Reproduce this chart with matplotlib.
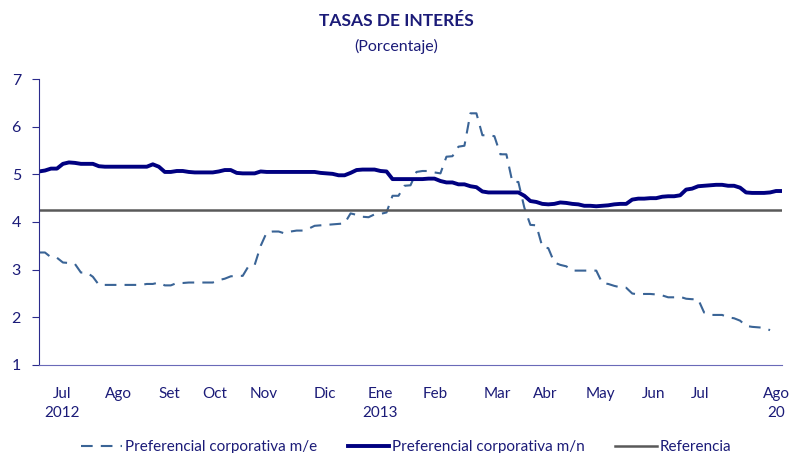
import matplotlib
matplotlib.use("Agg")
import matplotlib.pyplot as plt
import numpy as np

# datos (aprox.), un valor por punto del eje
m_n = [5.06, 5.08, 5.12, 5.12, 5.22, 5.25, 5.24, 5.22, 5.22, 5.22,
       5.17, 5.16, 5.16, 5.16, 5.16, 5.16, 5.16, 5.16, 5.16, 5.21,
       5.16, 5.05, 5.05, 5.07, 5.07, 5.05, 5.04, 5.04, 5.04, 5.04,
       5.06, 5.09, 5.09, 5.03, 5.02, 5.02, 5.02, 5.06, 5.05, 5.05,
       5.05, 5.05, 5.05, 5.05, 5.05, 5.05, 5.05, 5.03, 5.02, 5.01,
       4.98, 4.98, 5.03, 5.09, 5.10, 5.10, 5.10, 5.07, 5.06, 4.90,
       4.90, 4.90, 4.90, 4.90, 4.90, 4.91, 4.91, 4.86, 4.83, 4.83,
       4.79, 4.79, 4.75, 4.73, 4.64, 4.62, 4.62, 4.62, 4.62, 4.62,
       4.62, 4.55, 4.44, 4.42, 4.38, 4.37, 4.38, 4.41, 4.40, 4.38,
       4.37, 4.34, 4.34, 4.33, 4.34, 4.35, 4.37, 4.38, 4.38, 4.47,
       4.49, 4.49, 4.50, 4.50, 4.53, 4.54, 4.54, 4.56, 4.68, 4.70,
       4.75, 4.76, 4.77, 4.78, 4.78, 4.76, 4.76, 4.72, 4.62, 4.61,
       4.61, 4.61, 4.62, 4.65, 4.65]

m_e = [3.36, 3.36, 3.26, 3.25, 3.15, 3.14, 3.12, 2.94, 2.94, 2.85,
       2.68, 2.68, 2.68, 2.68, 2.68, 2.68, 2.68, 2.68, 2.70, 2.70,
       2.73, 2.67, 2.67, 2.72, 2.72, 2.73, 2.73, 2.73, 2.73, 2.73,
       2.78, 2.81, 2.86, 2.87, 2.87, 3.08, 3.10, 3.50, 3.78, 3.80,
       3.80, 3.76, 3.80, 3.82, 3.82, 3.86, 3.92, 3.93, 3.94, 3.95,
       3.96, 3.97, 4.18, 4.15, 4.11, 4.10, 4.16, 4.17, 4.20, 4.55,
       4.55, 4.76, 4.77, 5.05, 5.07, 5.07, 5.04, 5.02, 5.37, 5.38,
       5.58, 5.60, 6.28, 6.28, 5.82, 5.82, 5.80, 5.42, 5.42, 4.84,
       4.84, 4.30, 3.94, 3.93, 3.48, 3.45, 3.15, 3.10, 3.07, 2.98,
       2.98, 2.98, 2.98, 2.98, 2.72, 2.70, 2.66, 2.63, 2.62, 2.50,
       2.48, 2.49, 2.49, 2.48, 2.46, 2.42, 2.42, 2.43, 2.39, 2.38,
       2.38, 2.10, 2.05, 2.05, 2.05, 2.00, 1.98, 1.93, 1.82, 1.80,
       1.79, 1.78, 1.73, np.nan, np.nan]

referencia = 4.25

meses = ["Jul\n2012", "Ago", "Set", "Oct", "Nov", "Dic", "Ene\n2013", "Feb",
         "Mar", "Abr", "May", "Jun", "Jul", "Ago\n20"]
pos_meses = [3.8, 13.2, 21.7, 29.3, 37.5, 47.7, 57.0, 66.2, 76.5, 84.5,
             93.7, 102.5, 110.3, 123.0]

plt.rcParams['font.family'] = ['Lato', 'DejaVu Sans']
azul = "#1B1B78"
x = np.arange(len(m_n))

fig = plt.figure(figsize=(7.92, 4.53), dpi=100)
ax = fig.add_axes([0.0492, 0.1943, 0.9382, 0.6313])

ax.plot(x, m_e, color="#3A6496", lw=1.5, dashes=(5.6, 3.9),
        label="Preferencial corporativa m/e")
ax.plot(x, m_n, color="#000080", lw=2.8, label="Preferencial corporativa m/n")
ax.plot(x, [referencia] * len(x), color="#595959", lw=1.8, label="Referencia")

ax.set_xlim(0, len(x) - 1)
ax.set_ylim(1, 7)
ax.set_yticks(range(1, 8))
ax.set_xticks(pos_meses)
ax.set_xticklabels(meses, linespacing=1.45)

ax.spines["top"].set_visible(False)
ax.spines["right"].set_visible(False)
ax.spines["left"].set_color("#2B2B8C")
ax.spines["bottom"].set_color("#6A6AB8")
ax.tick_params(axis="y", colors="#2B2B8C", labelcolor=azul, labelsize=11.5,
               length=5, direction="out", pad=8)
ax.tick_params(axis="x", length=0, labelcolor=azul, labelsize=11, pad=16)

fig.text(0.5, 0.953, "TASAS DE INTERÉS", ha="center", va="center",
         fontsize=12.5, fontweight="bold", color=azul)
fig.text(0.5, 0.898, "(Porcentaje)", ha="center", va="center",
         fontsize=11.5, color=azul)

leg = ax.legend(loc="upper center", bbox_to_anchor=(0.494, -0.215), ncol=3,
                frameon=False, fontsize=11, handlelength=2.7,
                columnspacing=2.0, handletextpad=0.2)
for t in leg.get_texts():
    t.set_color(azul)

fig.savefig("out.png", dpi=100)
